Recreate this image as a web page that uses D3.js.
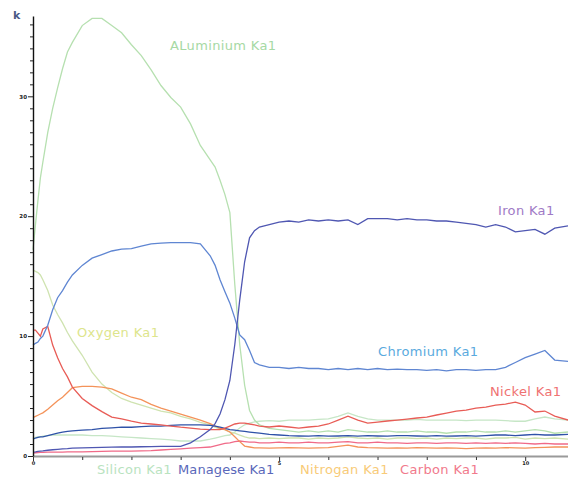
<!DOCTYPE html>
<html><head><meta charset="utf-8">
<script src="https://cdn.jsdelivr.net/npm/d3@7"></script>
<style>html,body{margin:0;padding:0;background:#fff;}svg{display:block;}</style>
</head><body>
<svg id="chart" width="568" height="480"></svg>
<script>
// shared x positions (distance units)
const xs = [0,0.05,0.1,0.15,0.2,0.3,0.4,0.5,0.6,0.7,0.8,1.0,1.2,1.4,1.6,1.8,2.0,2.2,2.4,2.6,2.8,3.0,3.2,3.4,3.6,3.7,3.8,3.9,4.0,4.1,4.2,4.3,4.4,4.5,4.6,4.8,5.0,5.2,5.4,5.6,5.8,6.0,6.2,6.4,6.6,6.8,7.0,7.2,7.4,7.6,7.8,8.0,8.2,8.4,8.6,8.8,9.0,9.2,9.4,9.6,9.8,10.0,10.2,10.4,10.6,10.87];

// counts (k)
const aluminium = [17.2,19.3,21.3,23.2,24.5,27.0,29.0,30.7,32.3,33.7,34.5,35.9,36.5,36.5,35.9,35.3,34.3,33.4,32.2,30.9,29.9,29.1,27.7,25.9,24.7,24.1,23.0,21.8,20.3,14.3,9.3,5.9,3.8,3.0,2.6,2.3,2.2,2.1,2.0,2.1,2.0,2.1,2.0,2.2,2.1,2.0,2.0,2.1,2.0,2.0,2.1,2.0,2.0,1.9,2.0,2.0,2.1,2.0,2.0,2.1,2.0,2.1,2.2,2.1,1.9,2.0];
const iron = [0.33,0.35,0.38,0.4,0.42,0.48,0.52,0.56,0.6,0.62,0.65,0.68,0.7,0.72,0.74,0.75,0.75,0.77,0.78,0.8,0.8,0.8,1.1,1.6,2.2,2.7,3.5,4.7,6.3,9.3,13.0,16.2,18.2,18.8,19.1,19.3,19.5,19.6,19.5,19.7,19.6,19.7,19.6,19.7,19.3,19.8,19.8,19.8,19.7,19.8,19.7,19.7,19.6,19.6,19.5,19.4,19.3,19.1,19.3,19.1,18.7,18.8,18.9,18.5,19.0,19.2];
const chromium = [9.25,9.4,9.5,9.8,10.0,10.9,12.2,13.2,13.8,14.5,15.1,15.9,16.5,16.8,17.1,17.25,17.3,17.5,17.7,17.75,17.8,17.8,17.8,17.7,16.7,15.9,14.7,13.7,12.75,11.5,10.1,9.7,8.8,7.8,7.6,7.4,7.4,7.3,7.4,7.3,7.3,7.2,7.3,7.2,7.3,7.2,7.3,7.2,7.25,7.2,7.2,7.15,7.2,7.1,7.2,7.2,7.15,7.2,7.2,7.4,7.8,8.2,8.5,8.8,8.0,7.9];
const nickel = [10.5,10.5,10.25,10.0,10.6,10.8,9.25,8.2,7.3,6.6,5.75,4.8,4.2,3.7,3.25,3.1,2.9,2.75,2.67,2.6,2.5,2.4,2.33,2.25,2.2,2.2,2.2,2.33,2.5,2.67,2.75,2.75,2.67,2.6,2.5,2.42,2.5,2.42,2.33,2.42,2.5,2.67,3.0,3.33,3.0,2.75,2.83,2.92,3.0,3.08,3.17,3.25,3.42,3.58,3.75,3.83,4.0,4.08,4.25,4.33,4.5,4.25,3.67,3.75,3.33,3.0];
const oxygen = [15.5,15.4,15.3,15.1,14.7,13.8,12.6,11.8,11.1,10.3,9.6,8.4,7.0,6.0,5.3,4.8,4.5,4.25,4.0,3.75,3.6,3.3,3.1,2.8,2.6,2.4,2.25,2.2,2.0,1.9,1.75,1.6,1.5,1.5,1.45,1.5,1.45,1.5,1.5,1.4,1.5,1.45,1.5,1.6,1.5,1.45,1.5,1.4,1.5,1.5,1.45,1.5,1.4,1.5,1.45,1.5,1.5,1.4,1.5,1.5,1.55,1.4,1.5,1.45,1.5,1.4];
const silicon = [1.5,1.55,1.6,1.6,1.65,1.7,1.75,1.75,1.75,1.75,1.75,1.75,1.7,1.7,1.65,1.6,1.55,1.5,1.45,1.4,1.35,1.25,1.25,1.25,1.4,1.5,1.6,1.7,1.75,2.0,2.33,2.6,2.75,2.85,2.9,2.95,2.9,3.0,3.0,3.0,3.05,3.1,3.3,3.6,3.3,3.1,3.0,3.0,3.0,3.0,3.05,3.0,3.0,3.0,3.0,2.95,3.0,3.0,3.0,2.95,2.9,2.9,3.1,3.25,3.1,3.0];
const manganese = [1.4,1.5,1.55,1.6,1.6,1.7,1.8,1.9,2.0,2.05,2.1,2.15,2.2,2.3,2.35,2.4,2.4,2.45,2.5,2.5,2.55,2.6,2.6,2.6,2.55,2.5,2.4,2.3,2.2,2.15,2.1,2.05,2.0,1.95,1.9,1.8,1.75,1.7,1.67,1.65,1.7,1.65,1.67,1.7,1.65,1.7,1.67,1.65,1.7,1.7,1.67,1.65,1.7,1.65,1.67,1.7,1.65,1.7,1.75,1.75,1.7,1.75,1.8,1.75,1.75,1.8];
const nitrogen = [3.2,3.3,3.4,3.5,3.6,3.9,4.25,4.6,4.9,5.3,5.7,5.8,5.8,5.75,5.6,5.25,4.9,4.7,4.3,4.0,3.75,3.5,3.25,3.0,2.7,2.5,2.3,2.2,2.0,1.6,1.2,0.83,0.75,0.67,0.67,0.65,0.67,0.7,0.67,0.65,0.67,0.7,0.8,0.9,0.75,0.7,0.67,0.65,0.67,0.65,0.7,0.67,0.65,0.67,0.65,0.62,0.65,0.67,0.65,0.7,0.67,0.65,0.7,0.72,0.75,0.75];
const carbon = [0.25,0.27,0.28,0.3,0.3,0.32,0.33,0.33,0.33,0.35,0.35,0.35,0.37,0.38,0.4,0.4,0.4,0.42,0.45,0.5,0.55,0.6,0.65,0.7,0.75,0.85,0.95,1.05,1.1,1.2,1.25,1.2,1.15,1.15,1.1,1.1,1.15,1.1,1.1,1.15,1.1,1.1,1.15,1.2,1.1,1.1,1.15,1.1,1.1,1.05,1.1,1.1,1.05,1.1,1.1,1.05,1.1,1.05,1.1,1.05,1.1,1.05,1.0,1.05,1.0,1.0];

const seriesNames = ["Aluminium","Iron","Chromium","Nickel","Oxygen","Silicon","Managese","Nitrogan","Carbon"];
const seriesValues = [aluminium,iron,chromium,nickel,oxygen,silicon,manganese,nitrogen,carbon];
const lineColors = ["#b6e0b0","#4f57b2","#5f86d2","#e85c56","#cfe3b0","#c6e6c6","#2f52a8","#f4935a","#f06a88"];

const labelTexts = ["ALuminium Ka1","Iron Ka1","Chromium Ka1","Nickel Ka1","Oxygen Ka1","Silicon Ka1","Managese Ka1","Nitrogan Ka1","Carbon Ka1"];
const labelColors = ["#a6d9a4","#a07ac6","#5aaade","#ef7272","#dde58c","#b9e3bf","#5a68ba","#f8cb78","#f17a8c"];

const xTickVals = [0,1,2,3,4,5,6,7,8,9,10];
const xTickLabels = {0:"0",5:"5",10:"10"};
const yTickVals = d3.range(0,37,1);
const yTickLabels = {0:"0",10:"10",20:"20",30:"30"};

const svg = d3.select("#chart");
const x = d3.scaleLinear().domain([0,10.87]).range([33,568]);
const y = d3.scaleLinear().domain([0,36.7]).range([456,16]);

// series lines
const line = d3.line().x((d,i)=>x(xs[i])).y(d=>y(d)).curve(d3.curveLinear);
const drawOrder = [5,4,0,8,7,6,3,2,1];
drawOrder.forEach(k=>{
  svg.append("path").datum(seriesValues[k])
    .attr("fill","none").attr("stroke",lineColors[k]).attr("stroke-width",1.3)
    .attr("d",line);
});

// x axis
svg.append("line").attr("x1",33).attr("x2",568).attr("y1",456.5).attr("y2",456.5)
  .attr("stroke","#9a9a9a").attr("stroke-width",2);
const xAxis = d3.axisBottom(x).tickValues(xTickVals).tickSize(3).tickSizeOuter(0)
  .tickFormat(d=>xTickLabels[d]||"");
const gx = svg.append("g").attr("transform","translate(0,457)").call(xAxis);
gx.select(".domain").remove();
gx.selectAll(".tick line").attr("stroke","#333").attr("y2",d=>xTickLabels[d]!==undefined?4:3);
gx.selectAll(".tick text").attr("y",4).attr("font-size","5px").attr("font-weight","bold")
  .attr("font-family","DejaVu Sans, sans-serif").attr("fill","#222");

// y axis
const yAxis = d3.axisLeft(y).tickValues(yTickVals).tickSize(3).tickSizeOuter(0)
  .tickFormat(d=>yTickLabels[d]||"");
const gy = svg.append("g").attr("transform","translate(33,0)").call(yAxis);
gy.select(".domain").attr("stroke","#111").attr("stroke-width",1.4);
gy.selectAll(".tick line").attr("stroke","#222").attr("x2",d=>yTickLabels[d]!==undefined?-5:-3);
gy.selectAll(".tick text").attr("x",-6).attr("font-size","5.5px").attr("font-weight","bold")
  .attr("font-family","DejaVu Sans, sans-serif").attr("fill","#222");

// unit label
svg.append("text").attr("x",13).attr("y",19).text("k")
  .attr("font-family","DejaVu Sans, sans-serif").attr("font-size","11px").attr("font-weight","bold")
  .attr("fill","#4b5a86");

// series labels
const labelPos = [[170,50],[498,215],[378,356],[490,396],[77,337],[97,474],[178,474],[300,474],[400,474]];
labelTexts.forEach((t,i)=>{
  svg.append("text").attr("x",labelPos[i][0]).attr("y",labelPos[i][1]).text(t)
    .attr("font-family","DejaVu Sans, sans-serif").attr("font-size","13px")
    .attr("letter-spacing", i===6 ? "0.1px" : "0.35px")
    .attr("fill",labelColors[i]);
});
</script>
</body></html>
